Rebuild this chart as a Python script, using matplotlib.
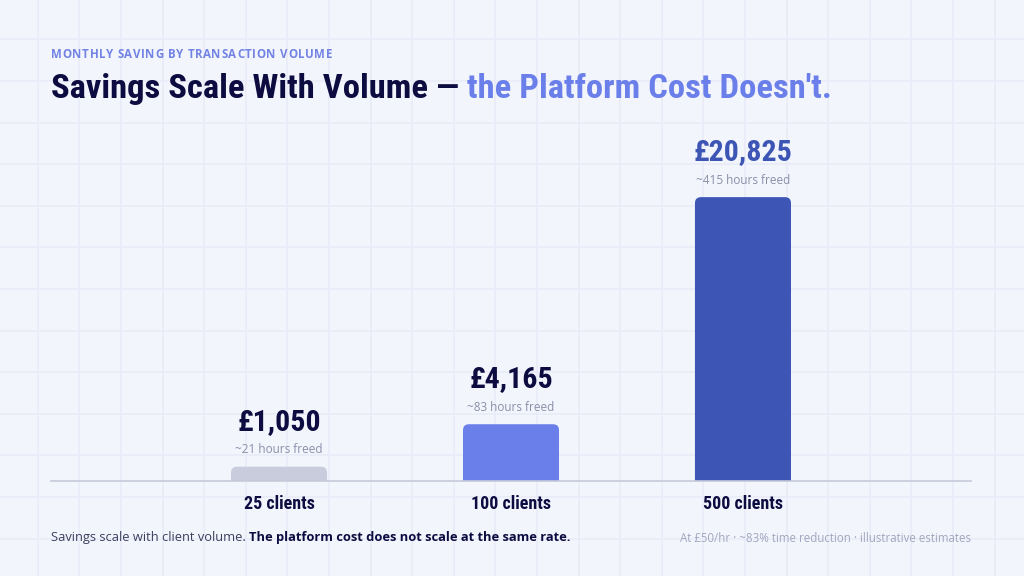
import matplotlib
matplotlib.use("Agg")
import matplotlib.pyplot as plt
from matplotlib import font_manager
from matplotlib.patches import FancyBboxPatch
import numpy as np

# ---- data ----
categories = ["25 clients", "100 clients", "500 clients"]
savings = [1050, 4165, 20825]
value_labels = ["£1,050", "£4,165", "£20,825"]
hours_labels = ["~21 hours freed", "~83 hours freed", "~415 hours freed"]

eyebrow = "MONTHLY SAVING BY TRANSACTION VOLUME"
title_a = "Savings Scale With Volume — "
title_b = "the Platform Cost Doesn't."
foot_a = "Savings scale with client volume. "
foot_b = "The platform cost does not scale at the same rate."
foot_right = "At £50/hr · ~83% time reduction · illustrative estimates"

# ---- styles ----
W, H = 1024, 576
BG = "#F3F5FD"
GRID = "#E9ECF8"
NAVY = "#0C0C40"
BLUE = "#6B7FEA"
DEEP = "#3D55B5"
bar_colors = ["#C8CCDC", BLUE, DEEP]
label_colors = [NAVY, NAVY, DEEP]

def pick(names):
    for n in names:
        try:
            font_manager.findfont(font_manager.FontProperties(family=n), fallback_to_default=False)
            return n
        except Exception:
            pass
    return "DejaVu Sans"

COND = pick(["Liberation Sans Narrow", "Roboto Condensed", "Open Sans Condensed", "Liberation Sans"])
SANS = pick(["Open Sans", "Noto Sans", "DejaVu Sans"])

fig = plt.figure(figsize=(W / 100, H / 100), dpi=100)
fig.patch.set_facecolor(BG)

# background grid (figure pixels)
bgax = fig.add_axes([0, 0, 1, 1], zorder=-10)
bgax.set_xlim(0, W); bgax.set_ylim(H, 0); bgax.axis("off")
for gx in np.arange(-3.8, W, 41.6):
    bgax.axvline(gx, color=GRID, lw=1.2)
for gy in np.arange(-2.3, H, 41.6):
    bgax.axhline(gy, color=GRID, lw=1.2)

def fx(px):
    return px / W

def fy(py):
    return 1 - py / H

renderer = fig.canvas.get_renderer()

def text_w(s, **kw):
    t = fig.text(0, 0, s, **kw)
    w = t.get_window_extent(renderer).width
    t.remove()
    return w

# eyebrow with letter spacing
ek = dict(fontsize=8.3, fontweight="bold", family=SANS, color="#7283E4")
base = text_w(eyebrow, **ek)
spacing = (281 - base) / (len(eyebrow) - 1)
bar_w = text_w("|", **ek)
for i, ch in enumerate(eyebrow):
    off = text_w(eyebrow[:i] + "|", **ek) - bar_w if i else 0
    fig.text(fx(51 + off + i * spacing), fy(54), ch, va="center", ha="left", **ek)

# title in two colours
TS = 24.8
tk = dict(fontsize=TS, fontweight="bold", family=COND, va="center", ha="left")
fig.text(fx(51), fy(89), title_a, color=NAVY, **tk)
w1 = text_w(title_a.rstrip() + "|", fontsize=TS, fontweight="bold", family=COND) - text_w("|", fontsize=TS, fontweight="bold", family=COND)
sp = text_w("a a", fontsize=TS, fontweight="bold", family=COND) - text_w("aa", fontsize=TS, fontweight="bold", family=COND)
fig.text(fx(51 + w1 + sp), fy(89), title_b, color=BLUE, **tk)

# bar axes
ax = fig.add_axes([fx(51), 95 / H, 920 / W, 351 / H])
ax.set_facecolor("none")
x = np.arange(len(categories))
bars = ax.bar(x, savings, width=0.414, color=bar_colors)
ax.set_xlim(-0.983, 2.983)
ax.set_ylim(0, 25750)
for s in ["top", "right", "left"]:
    ax.spines[s].set_visible(False)
ax.spines["bottom"].set_color("#C5C9DA")
ax.spines["bottom"].set_linewidth(1.2)
ax.set_yticks([])
ax.set_xticks(x)
ax.set_xticklabels(categories, fontsize=13, fontweight="bold", family=COND, color=NAVY)
ax.tick_params(axis="x", length=0, pad=10)

# rounded top corners
px_per_x = 920 / (2.983 + 0.983)
px_per_y = 351 / 25750
r_px = 6
for b, c in zip(bars, bar_colors):
    b.set_visible(False)
    x0, w, h = b.get_x(), b.get_width(), b.get_height()
    rx = r_px / px_per_x
    ry = r_px / px_per_y
    p = FancyBboxPatch((x0 + rx, -ry * 2), w - 2 * rx, h + ry * 2 - ry,
                       boxstyle=f"round,pad={rx},rounding_size={rx}",
                       mutation_aspect=ry / rx, facecolor=c, edgecolor="none",
                       clip_on=True, zorder=2)
    ax.add_patch(p)

for xi, v, vl, hl, lc in zip(x, savings, value_labels, hours_labels, label_colors):
    ax.annotate(vl, (xi, v), xytext=(0, 45 * 0.72), textcoords="offset points",
                ha="center", va="center", fontsize=21.5, fontweight="bold",
                family=COND, color=lc)
    ax.annotate(hl, (xi, v), xytext=(0, 17 * 0.72), textcoords="offset points",
                ha="center", va="center", fontsize=8.5, family=SANS, color="#8A8FA8")

# footer
FS = 9.3
fk = dict(fontsize=FS, family=SANS, va="center", ha="left")
fig.text(fx(51), fy(538), foot_a, color="#3A3F5C", **fk)
wa = text_w(foot_a.rstrip() + "|", fontsize=FS, family=SANS) - text_w("|", fontsize=FS, family=SANS)
spf = text_w("a a", fontsize=FS, family=SANS) - text_w("aa", fontsize=FS, family=SANS)
fig.text(fx(51 + wa + spf), fy(538), foot_b, color=NAVY, fontweight="bold", **fk)
fig.text(fx(971), fy(538), foot_right, fontsize=8.3, family=SANS, color="#A2A6BC",
         va="center", ha="right")

fig.savefig("out.png", dpi=100, facecolor=BG)
